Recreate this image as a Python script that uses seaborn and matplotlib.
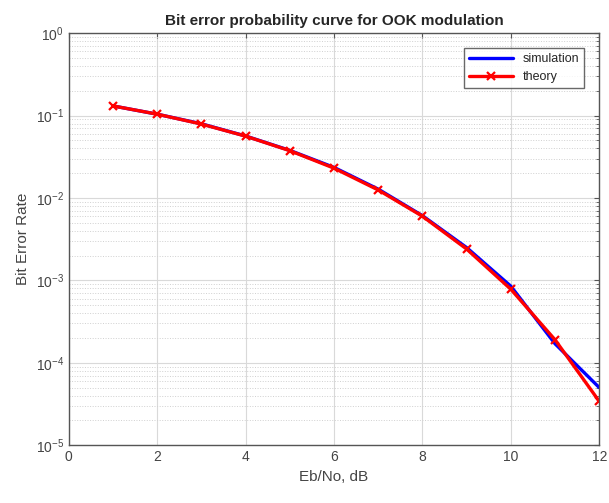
import numpy as np
import pandas as pd
import matplotlib
matplotlib.use("Agg")
import matplotlib.pyplot as plt
import seaborn as sns

# 数据
ebno_db = [1, 2, 3, 4, 5, 6, 7, 8, 9, 10, 11, 12]
ber_sim = [0.131, 0.104, 0.0795, 0.0565, 0.0378, 0.0235, 0.0128, 0.0061, 0.0025, 0.00085, 0.00017, 0.00005]
ber_theory = [0.131, 0.104, 0.0789, 0.0563, 0.0375, 0.0230, 0.0125, 0.0060, 0.0024, 0.00078, 0.00019, 0.000034]

sns.set_style("white")
plt.rcParams['font.family'] = ['Liberation Sans', 'DejaVu Sans']

fig = plt.figure(figsize=(6.09, 5.03), dpi=100)
ax = fig.add_axes([0.113, 0.115, 0.871, 0.819])

df_sim = pd.DataFrame({'x': ebno_db, 'y': ber_sim})
df_th = pd.DataFrame({'x': ebno_db, 'y': ber_theory})

sns.lineplot(data=df_sim, x='x', y='y', color='#0000ff', lw=2.4, ax=ax, label='simulation')
sns.lineplot(data=df_th, x='x', y='y', color='#ff0000', lw=2.4, marker='x', markersize=6,
             markeredgewidth=1.6, markeredgecolor='#ff0000', ax=ax, label='theory')

ax.set_yscale('log')
ax.set_xlim(0, 12)
ax.set_ylim(1e-5, 1)
ax.set_xticks(np.arange(0, 13, 2))

# MATLAB 风格网格
ax.grid(True, which='major', color='#d9d9d9', lw=0.8, ls='-')
ax.grid(True, which='minor', axis='y', color='#d0d0d0', lw=0.7, ls=':')
ax.tick_params(axis='both', which='both', direction='in', top=True, right=True,
               labelsize=10, colors='#555555', labelcolor='#444444')
for s in ax.spines.values():
    s.set_color('#555555')
    s.set_linewidth(1.0)

ax.set_title('Bit error probability curve for OOK modulation', fontsize=11, fontweight='bold')
ax.set_xlabel('Eb/No, dB', fontsize=11, color='#444444')
ax.set_ylabel('Bit Error Rate', fontsize=11, color='#444444')

leg = ax.legend(loc='upper right', fontsize=9, frameon=True, fancybox=False,
                edgecolor='#444444', handlelength=3.5, borderaxespad=1.2)
leg.get_frame().set_linewidth(1.0)

fig.savefig('out.png', dpi=100)
